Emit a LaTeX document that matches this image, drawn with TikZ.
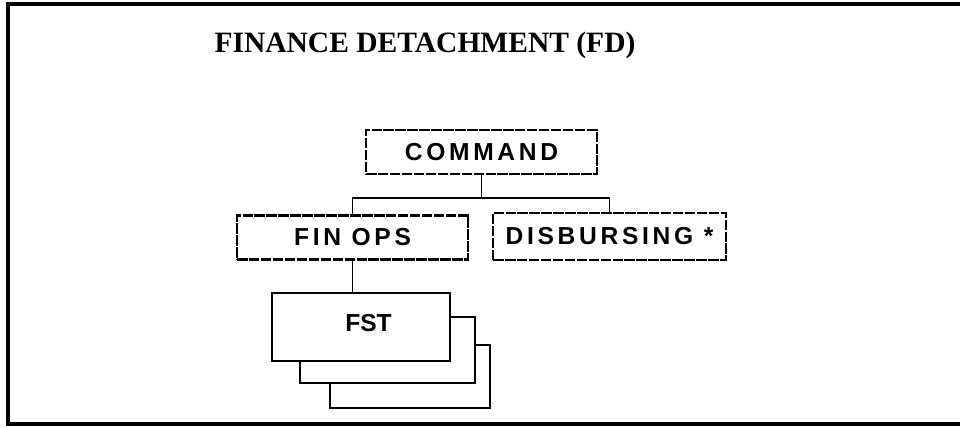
\documentclass[tikz,border=0pt]{standalone}
\usepackage{fontspec}
\setmainfont{Liberation Serif}
\setsansfont{Liberation Sans}
\newfontfamily\orgfont[LetterSpace=15]{Liberation Sans}

\begin{document}
\begin{tikzpicture}[
  unit/.style={draw, line width=1.3pt, dash pattern=on 6pt off 0.8pt,
    minimum width=4.62cm, minimum height=0.88cm, inner sep=0pt,
    font=\orgfont\bfseries\fontsize{14}{16}\selectfont},
  team/.style={draw, line width=1.4pt, fill=white, inner sep=0pt},
  link/.style={line width=1.1pt}
]
\useasboundingbox (0,0) rectangle (19.2,8.54);

\draw [line width=2.2pt]  (19.2,8.46) -- (0.16,8.46) -- (0.16,0.06) -- (19.2,0.06);

\node (title) at (8.5,7.64) {\bfseries\fontsize{16.8}{20}\selectfont FINANCE DETACHMENT (FD)};

\node [unit] (cmd) at (9.63,5.5) {COMMAND};
\node [unit] (finops) at (7.05,3.79) {FIN OPS};
\node [unit, minimum width=4.66cm, minimum height=0.94cm] (disb) at (12.19,3.81) {DISBURSING *};

\node [team, minimum width=3.2cm, minimum height=1.26cm] (fst3) at (8.2,1.01) {};
\node [team, minimum width=3.5cm, minimum height=1.32cm] (fst2) at (7.75,1.54) {};
\node [team, minimum width=3.56cm, minimum height=1.36cm,
  font=\sffamily\bfseries\fontsize{14}{16}\selectfont] (fst) at (7.22,2.0) {\hspace{0.3cm}FST\raisebox{0pt}[0pt][0.15cm]{}};

\draw [link]  (cmd.south) -- ++(0,-0.46) coordinate (bar);
\draw [link]  (finops.north) |- (bar) -| (disb.north);
\draw [link]  (finops.south) -- (finops.south |- fst.north);

\end{tikzpicture}
\end{document}
